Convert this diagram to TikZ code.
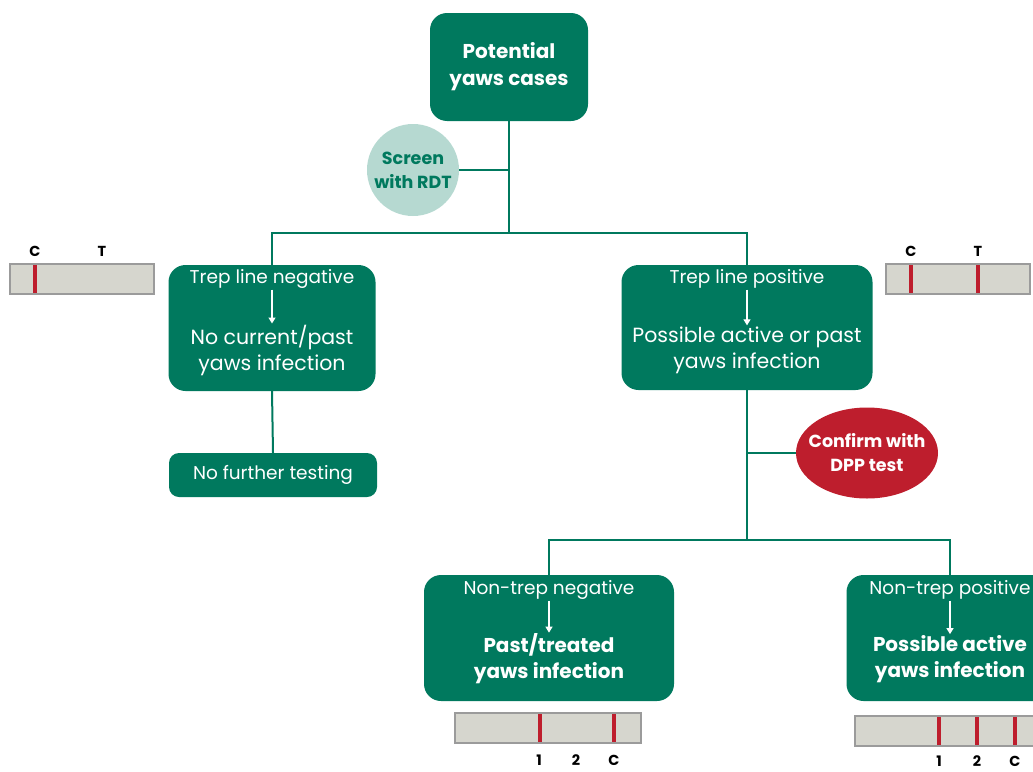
\documentclass[tikz,border=0pt]{standalone}
\usepackage{fontspec}
\setmainfont{Poppins}
\usetikzlibrary{arrows.meta,positioning,calc,shapes.geometric}

\definecolor{yawsteal}{RGB}{0,121,94}
\definecolor{yawsmint}{RGB}{182,217,209}
\definecolor{yawsred}{RGB}{190,30,45}
\definecolor{stripfill}{RGB}{214,214,206}
\definecolor{stripedge}{RGB}{155,155,155}

\begin{document}
\begin{tikzpicture}[
  x=1pt, y=-1pt,
  box/.style={fill=yawsteal, rounded corners=17pt, text=white, align=center, inner sep=0pt},
  small/.style={text=white, font=\fontsize{18.5}{22}\selectfont, inner sep=1pt},
  big/.style={text=white, align=center, font=\fontsize{20.5}{26}\selectfont, inner sep=1pt},
  bigbold/.style={big, font=\bfseries\fontsize{20}{26}\selectfont},
  link/.style={draw=yawsteal, line width=2pt},
  inarrow/.style={-{Triangle[width=7pt,length=6pt]}, white, line width=1.2pt},
  strip/.style={draw=stripedge, fill=stripfill, line width=2pt, minimum width=144pt, minimum height=30pt, inner sep=0pt},
  band/.style={yawsred, line width=3.5pt},
  tag/.style={font=\bfseries\fontsize{14.5}{17}\selectfont, inner sep=0pt}
]
\useasboundingbox (0,0) rectangle (1033,771);

% --- Start and screening ------------------------------------------------------
\node[box, minimum width=158pt, minimum height=108pt, font=\bfseries\fontsize{20}{27}\selectfont] (cases) at (509,67) {Potential\\yaws cases};
\node[circle, fill=yawsmint, minimum size=92pt, inner sep=0pt, text=yawsteal, align=center, font=\bfseries\fontsize{17.5}{24}\selectfont] (rdt) at (413,170) {Screen\\with RDT};
\coordinate (rdtjoin) at (cases.south |- rdt.east);
\coordinate (split1) at (509,233);

\draw[link] (cases.south) -- (split1);
\draw[link] (rdt.east) -- (rdtjoin);

% --- RDT outcomes ---------------------------------------------------------------
\node[box, minimum width=207pt, minimum height=126pt] (neg) at (272,328) {};
\node[small] (negtop) at (272,279) {Trep line negative};
\node[big] (negmain) at (272,350) {No current/past\\yaws infection};
\draw[inarrow] (negtop) -- (negmain);

\node[box, minimum width=251pt, minimum height=125pt] (pos) at (747,327.5) {};
\node[small] (postop) at (747,279) {Trep line positive};
\node[big] (posmain) at (747,350) {Possible active or past\\yaws infection};
\draw[inarrow] (postop) -- (posmain);

\draw[link] (neg.north) |- (split1) -| (pos.north);

\node[box, rounded corners=10pt, minimum width=208pt, minimum height=44pt, font=\fontsize{18.5}{22}\selectfont] (stop) at (273,475) {No further testing};
\draw[link] (neg.south) -- (stop.north);

% --- DPP confirmation -----------------------------------------------------------
\node[ellipse, fill=yawsred, minimum width=142pt, minimum height=91pt, inner xsep=-14pt, inner ysep=-8pt, text=white, align=center, font=\bfseries\fontsize{17.5}{24}\selectfont] (dpp) at (867,453) {Confirm with\\DPP test};
\coordinate (dppjoin) at (pos.south |- dpp.west);
\coordinate (split2) at (747,540);
\draw[link] (pos.south) -- (split2);
\draw[link] (dppjoin) -- (dpp.west);

\node[box, minimum width=250pt, minimum height=126pt] (past) at (549,638) {};
\node[small] (pasttop) at (549,590) {Non-trep negative};
\node[bigbold] (pastmain) at (549,659) {Past/treated\\yaws infection};
\draw[inarrow] (pasttop) -- (pastmain);

\node[box, minimum width=207pt, minimum height=126pt] (active) at (950,638) {};
\node[small] (activetop) at (950,590) {Non-trep positive};
\node[bigbold] (activemain) at (950,659) {Possible active\\yaws infection};
\draw[inarrow] (activetop) -- (activemain);

\draw[link] (past.north) |- (split2) -| (active.north);

% --- Test strips ----------------------------------------------------------------
\node[strip] (stripneg) at (82,279) {};
\draw[band] (35,265) -- (35,293);
\node[tag] (negc) at (35,251) {C};
\node[tag] (negt) at (102,251) {T};

\node[strip] (strippos) at (958,279) {};
\draw[band] (911,265) -- (911,293);
\draw[band] (978,265) -- (978,293);
\node[tag] (posc) at (911,251) {C};
\node[tag] (post) at (978,251) {T};

\node[strip, minimum width=186pt] (strippast) at (548,728) {};
\draw[band] (540,714) -- (540,742);
\draw[band] (614,714) -- (614,742);
\node[tag] (past1) at (539,760) {1};
\node[tag] (past2) at (576,760) {2};
\node[tag] (pastc) at (614,760) {C};

\node[strip, minimum width=186pt] (stripactive) at (948,731) {};
\draw[band] (939,717) -- (939,745);
\draw[band] (977,717) -- (977,745);
\draw[band] (1015,717) -- (1015,745);
\node[tag] (active1) at (939,761) {1};
\node[tag] (active2) at (977,761) {2};
\node[tag] (activec) at (1015,761) {C};

\end{tikzpicture}
\end{document}
